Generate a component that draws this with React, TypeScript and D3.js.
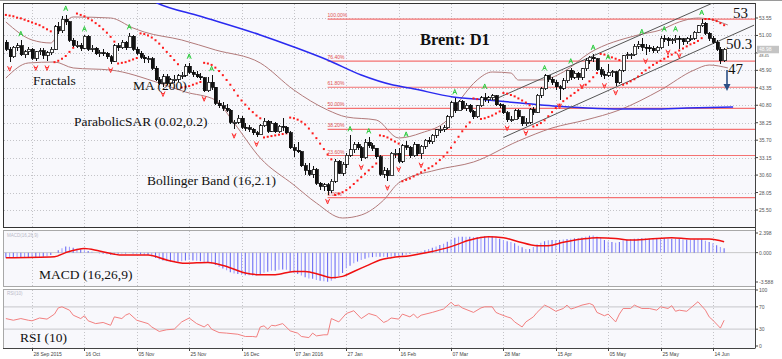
import React, { useEffect, useRef } from 'react';
import * as d3 from 'd3';

const W = 782;
const H = 359;

// trading calendar
const startDate = '2015-09-17';
const holidays = ['2015-11-26', '2015-12-25', '2016-01-01', '2016-03-25'];

// daily bars [open, high, low, close]
const candles: number[][] = [
  [50.0,50.3,48.8,49.0],[49.0,49.3,47.1,47.9],[47.9,49.5,47.7,49.3],[49.3,49.9,48.7,49.5],[49.5,50.3,48.0,48.2],
  [48.2,48.9,47.7,48.6],[48.6,49.3,48.1,49.0],[49.0,49.1,47.4,47.7],[47.7,48.8,47.2,48.6],[48.6,49.2,48.1,48.8],
  [48.8,49.2,47.6,48.1],[48.1,48.7,47.2,48.5],[48.5,49.3,48.2,49.0],[49.0,52.6,48.9,52.3],[52.3,52.9,51.2,51.7],
  [51.7,53.8,51.4,53.4],[53.4,54.0,52.6,53.0],[53.0,53.1,50.1,50.3],[50.3,50.6,49.3,49.6],[49.6,50.2,49.1,49.6],
  [49.6,49.9,48.8,49.1],[49.1,51.0,49.0,50.9],[50.9,51.0,48.8,49.0],[49.0,49.6,48.6,49.1],[49.1,49.3,48.1,48.3],
  [48.3,48.9,47.8,48.5],[48.5,49.0,48.0,48.4],[48.4,48.6,47.6,47.9],[47.9,48.1,46.9,47.2],[47.2,49.7,47.1,49.5],
  [49.5,49.9,48.8,49.2],[49.2,50.3,49.0,50.0],[50.0,50.2,48.9,49.2],[49.2,51.3,49.1,50.9],[50.9,51.0,48.8,49.0],
  [49.0,49.3,48.1,48.4],[48.4,48.7,47.5,47.8],[47.8,48.2,47.0,47.6],[47.6,48.0,47.0,47.6],[47.6,47.8,45.9,46.2],
  [46.2,46.5,44.3,44.5],[44.5,45.0,43.7,44.0],[44.0,45.4,43.4,45.0],[45.0,45.3,43.8,44.0],[44.0,44.8,43.6,44.5],
  [44.5,45.2,44.1,44.6],[44.6,45.4,44.2,45.1],[45.1,45.6,44.6,45.2],[45.2,46.9,45.0,46.5],[46.5,47.0,45.4,45.6],
  [45.6,46.0,45.0,45.3],[45.3,45.8,44.8,45.0],[45.0,45.5,44.5,44.8],[44.8,45.0,42.7,42.9],[42.9,44.9,42.7,44.2],
  [44.2,45.2,43.1,43.4],[43.4,43.5,40.9,41.1],[41.1,41.6,40.4,40.7],[40.7,41.3,40.0,40.4],[40.4,41.0,39.8,40.1],
  [40.1,40.2,38.0,38.3],[38.3,38.7,37.3,38.3],[38.3,39.4,38.0,38.9],[38.9,39.2,37.4,37.6],[37.6,38.2,37.1,37.5],
  [37.5,37.9,36.9,37.3],[37.3,37.5,36.4,36.8],[36.8,37.0,36.1,36.5],[36.5,38.1,36.4,37.8],[37.8,38.9,37.6,38.5],
  [38.5,38.7,36.8,37.0],[37.0,38.5,36.9,38.2],[38.2,38.3,36.7,36.9],[36.9,37.9,36.8,37.7],[37.7,39.0,37.0,37.6],
  [37.6,37.8,36.6,36.8],[36.8,37.0,34.4,34.6],[34.6,35.1,33.2,34.2],[34.2,35.4,33.8,34.0],[34.0,34.1,31.8,32.0],
  [32.0,32.4,30.6,31.3],[31.3,32.3,30.4,30.7],[30.7,31.9,30.2,31.4],[31.4,31.6,29.2,29.4],[29.4,29.6,28.4,29.0],
  [29.0,29.5,28.3,29.2],[29.2,29.4,27.7,28.3],[28.3,30.0,28.0,29.7],[29.7,32.9,29.5,32.6],[32.6,32.8,30.7,30.9],
  [30.9,32.5,30.4,32.2],[32.2,33.8,31.6,33.5],[33.5,36.4,33.3,34.3],[34.3,35.5,33.9,35.1],[35.1,35.4,34.2,34.6],
  [34.6,34.8,32.7,33.1],[33.1,35.8,32.9,35.4],[35.4,36.1,34.5,34.9],[34.9,35.3,34.1,34.5],[34.5,34.6,33.0,33.3],
  [33.3,33.5,30.5,30.7],[30.7,31.8,30.2,31.2],[31.2,31.6,29.7,30.5],[30.5,34.0,30.4,33.8],[33.8,34.4,33.1,33.8],
  [33.8,34.5,32.4,32.6],[32.6,35.2,32.4,34.9],[34.9,35.6,34.2,34.7],[34.7,34.9,33.1,33.4],[33.4,35.4,33.2,35.1],
  [35.1,35.2,33.4,33.7],[33.7,35.0,33.0,34.8],[34.8,35.9,34.4,35.7],[35.7,36.1,35.1,35.5],[35.5,36.6,35.2,36.4],
  [36.4,37.4,36.0,37.2],[37.2,37.7,36.8,37.3],[37.3,37.9,36.9,37.5],[37.5,39.4,37.3,39.1],[39.1,41.4,39.0,41.2],
  [41.2,41.8,39.7,40.0],[40.0,41.6,39.9,41.4],[41.4,41.5,40.1,40.4],[40.4,41.2,40.0,40.8],[40.8,41.0,39.6,39.9],
  [39.9,40.1,38.8,39.1],[39.1,40.9,38.9,40.7],[40.7,42.2,40.5,41.9],[41.9,42.6,41.3,41.6],[41.6,42.2,41.2,41.9],
  [41.9,42.4,41.5,42.2],[42.2,42.3,40.7,40.9],[40.9,41.2,40.4,40.8],[40.8,41.0,39.5,39.7],[39.7,39.9,38.4,38.7],
  [38.7,39.3,38.3,38.7],[38.7,40.3,38.6,40.0],[40.0,40.2,38.8,39.1],[39.1,39.3,37.8,38.1],[38.1,38.9,37.7,38.3],
  [38.3,40.4,38.0,40.2],[40.2,40.6,39.4,39.8],[39.8,42.5,39.6,42.3],[42.3,43.4,41.9,43.2],[43.2,45.3,43.0,45.1],
  [45.1,45.2,44.2,44.6],[44.6,44.9,43.8,44.2],[44.2,44.5,43.1,43.5],[43.5,43.7,41.6,43.3],[43.3,44.8,43.0,44.4],
  [44.4,46.0,44.0,45.9],[45.9,46.3,44.5,44.9],[44.9,45.8,44.6,45.5],[45.5,45.7,44.5,44.9],[44.9,46.3,44.5,46.1],
  [46.1,47.7,45.8,47.4],[47.4,48.0,46.9,47.8],[47.8,48.3,47.1,47.6],[47.6,47.7,45.8,46.0],[46.0,46.4,45.0,45.3],
  [45.3,45.8,44.6,45.2],[45.2,46.9,45.0,45.6],[45.6,46.0,45.0,45.7],[45.7,45.8,43.6,44.1],[44.1,46.1,43.9,45.9],
  [45.9,48.2,45.7,48.0],[48.0,48.6,47.5,48.2],[48.2,48.5,47.5,48.2],[48.2,49.7,48.0,49.4],[49.4,50.2,49.0,49.7],
  [49.7,50.6,48.8,49.3],[49.3,49.8,48.2,49.2],[49.2,49.6,48.6,49.1],[49.1,49.4,48.4,48.8],[48.8,49.4,48.5,49.2],
  [49.2,50.9,49.0,50.6],[50.6,51.0,50.1,50.5],[50.5,50.8,49.5,50.2],[50.2,50.6,49.8,50.4],[50.4,51.0,49.9,50.6],
  [50.6,50.9,49.0,50.5],[50.5,50.7,49.6,50.1],[50.1,50.8,49.8,50.5],[50.5,51.0,50.2,50.6],[50.6,51.7,50.4,51.5],
  [51.5,52.6,51.3,52.4],[52.4,53.4,52.2,52.8],[52.8,52.9,51.0,51.3],[51.3,51.5,50.2,50.6],[50.6,50.9,49.8,50.0],
  [50.0,50.3,48.8,49.0],[49.0,49.3,46.9,47.3],[47.3,49.2,47.1,48.98],
];
const lastPrice = 48.98;

// parabolic SAR (0.02, 0.2), one dot per bar
const sar = [
  54.0,53.9,53.8,53.6,53.5,53.3,53.1,52.9,52.7,52.5,52.2,51.9,51.6,
  47.1,47.3,47.6,48.0,48.6,49.2,
  54.2,54.0,53.8,53.5,53.2,52.8,52.4,51.9,51.4,50.8,50.1,
  46.9,47.0,47.1,47.3,47.5,47.7,
  51.3,51.2,51.0,50.7,50.3,49.8,49.2,48.6,48.0,47.4,46.8,
  43.4,43.5,43.6,43.8,44.0,44.2,
  47.0,46.9,46.7,46.3,45.8,45.2,44.5,43.8,43.0,42.2,41.5,40.9,40.3,39.8,39.3,38.9,
  36.1,36.2,36.3,36.4,36.5,36.6,36.7,
  39.0,38.9,38.7,38.4,38.0,37.4,36.7,36.0,35.2,34.4,33.6,32.9,
  27.7,27.9,28.1,28.4,28.8,29.3,29.8,30.3,30.8,31.3,31.8,32.3,
  36.4,36.3,36.1,35.8,35.5,35.2,
  29.7,29.9,30.1,30.4,30.7,31.0,31.3,31.6,31.9,32.3,32.8,33.3,33.9,34.6,35.4,36.2,37.0,37.7,38.3,
  41.8,41.7,
  38.8,38.9,39.1,39.3,39.6,39.9,
  42.6,42.5,42.3,42.1,41.8,41.5,41.2,40.8,
  37.7,37.9,38.2,38.6,39.2,39.8,40.4,40.9,41.4,41.8,42.2,42.6,43.0,43.4,43.8,44.3,44.9,45.5,
  48.3,48.2,48.0,47.8,47.6,47.4,
  43.8,44.0,44.3,44.6,45.0,45.5,45.9,46.3,46.7,47.0,47.3,47.6,47.9,48.2,48.5,48.8,49.1,49.4,49.7,49.9,50.2,50.6,
  53.4,53.4,53.3,53.1,52.8,52.5,
];

// Moving average 200, Bollinger (16,2.1): [bar, value]
const ma200: number[][] = [
  [38, 56.4], [40.4, 55.74], [52, 53.8], [68, 51.07], [77, 49.31], [86, 47.41], [95, 45.22], [103.5, 43.76],
  [108, 43.32], [119.5, 42.01], [128.6, 41.57], [137.5, 41.13], [146.3, 40.69], [155.4, 40.40], [164.2, 40.26],
  [173, 40.26], [182, 40.40], [194.4, 40.55],
];
const bbUpper: number[][] = [
  [0, 52.97], [7, 50.34], [12, 49.9], [14, 51.36], [16, 52.97], [18, 53.7], [28, 53.55], [34, 52.09], [37, 51.5],
  [47, 50.34], [56, 48.88], [68, 46.98], [77, 43.03], [86, 40.11], [91, 39.09], [99, 38.65], [105, 36.02],
  [111, 36.75], [118, 38.65], [122, 42.0], [126, 44.5], [130, 45.66], [135, 45.51], [137, 44.49], [143, 44.49],
  [149, 45.66], [156, 48.44], [169, 51.07], [175, 51.8], [180, 52.97], [185, 53.55], [189, 53.26], [193, 52.53],
];
const bbLower: number[][] = [
  [0, 44.78], [6, 46.98], [13, 47.12], [18, 46.25], [28, 45.95], [41, 44.05], [48, 42.74], [56, 41.57],
  [61, 38.21], [68, 33.1], [77, 29.15], [83, 26.52], [90, 24.33], [95, 24.77], [101, 26.96], [105, 29.45],
  [115, 31.34], [125, 32.51], [137, 35.58], [146, 37.48], [155, 38.65], [164, 40.11], [175, 43.03], [184, 45.95],
  [188, 46.68], [193, 46.25],
];

const fractalUp = [4, 16, 21, 33, 49, 55, 92, 97, 107, 120, 128, 144, 151, 157, 161, 170, 176, 179, 186];
const fractalDown = [1, 8, 11, 28, 42, 53, 61, 67, 86, 95, 102, 105, 111, 134, 139, 148, 154, 160, 163, 171, 177, 180];

// trend channel [bar, price]
const channelUpper: number[][] = [[130, 41.5], [195, 57.2]];
const channelLower: number[][] = [[133, 36.1], [200, 52.5]];

// fibonacci retracement
const fibLow = 27.3;
const fibHigh = 53.4;
const fibStartBar = 86;
const fibLevels = [0, 23.6, 38.2, 50, 61.8, 76.4, 100];

const priceTicks = [53.55, 51.0, 48.45, 45.9, 43.35, 40.8, 38.25, 35.7, 33.15, 30.6, 28.05, 25.5];

// MACD (16,26,9)
const macdHist = [
  -0.62,-0.62,-0.6,-0.6,-0.58,-0.58,-0.55,-0.55,-0.55,-0.52,-0.5,-0.45,
  -0.3,0.0,0.3,0.55,0.75,0.72,0.6,0.5,0.4,
  0.3,0.2,0.1,0.0,-0.1,-0.15,-0.2,-0.25,-0.2,-0.15,
  -0.1,-0.1,-0.05,-0.1,-0.15,-0.2,-0.25,-0.3,-0.45,-0.65,
  -0.85,-0.95,-1.05,-1.1,-1.15,-1.1,-1.05,-0.95,-0.9,-0.95,
  -1.0,-1.05,-1.2,-1.25,-1.3,-1.5,-1.75,-1.95,-2.15,-2.4,
  -2.55,-2.6,-2.7,-2.75,-2.75,-2.8,-2.8,-2.65,-2.45,-2.35,
  -2.2,-2.2,-2.1,-2.05,-2.1,-2.3,-2.5,-2.6,-2.8,-3.0,
  -3.15,-3.2,-3.35,-3.45,-3.5,-3.55,-3.45,-3.2,-2.9,-2.5,
  -1.9,-1.6,-1.3,-1.1,-0.9,-0.75,-0.6,-0.55,-0.5,-0.5,
  -0.5,-0.55,-0.5,-0.45,-0.45,-0.35,-0.25,-0.15,-0.05,0.05,
  0.15,0.3,0.45,0.6,0.75,0.93,1.1,1.34,1.6,1.83,
  1.95,1.95,1.95,1.95,1.9,1.9,1.95,2.0,2.0,2.0,
  1.9,1.7,1.55,1.4,1.3,1.14,0.85,0.65,0.45,0.45,
  0.7,1.0,1.2,1.4,1.5,1.55,1.55,1.55,1.6,1.65,
  1.7,1.75,1.8,1.85,1.95,2.07,2.1,1.95,1.78,1.55,
  1.35,1.3,1.2,1.3,1.5,1.6,1.65,1.7,1.75,1.75,
  1.75,1.7,1.65,1.65,1.7,1.75,1.72,1.7,1.7,1.65,
  1.6,1.58,1.58,1.6,1.65,1.6,1.45,1.3,1.15,0.9,0.7,0.55,
];
const macdSignal: number[][] = [
  [0, -0.62], [13, -0.5], [16, 0.0], [21, 0.5], [25, 0.2], [31, -0.3], [38, -0.3], [43, -0.9], [48, -1.3],
  [54, -1.2], [59, -1.7], [64, -2.5], [68, -2.7], [72, -2.7], [77, -2.3], [80, -2.3], [84, -2.7], [87, -3.06],
  [90, -2.9], [93, -2.3], [97, -1.5], [100, -0.9], [103, -0.62], [108, -0.37], [113, 0.04], [119, 0.73],
  [124, 1.54], [129, 1.95], [133, 1.83], [137, 1.34], [142, 0.85], [145, 0.85], [149, 1.26], [154, 1.66],
  [158, 1.83], [163, 1.74], [167, 1.54], [172, 1.66], [178, 1.83], [183, 1.66], [188, 1.66], [192, 1.34],
];
const macdTicks = [2.398, 0, -3.588];

// RSI (10): [bar, value]
const rsi: number[][] = [
  [0,49],[2,46],[4,49],[6,46],[7,45],[9,50],[11,48],[13,57],[14,68],[15,70],[17,64],[18,55],[20,49],[21,54],
  [22,45],[24,40],[26,42],[28,37],[29,52],[31,49],[32,55],[33,58],[35,46],[38,40],[39,34],[41,26],[43,29],
  [45,30],[47,43],[49,50],[51,40],[53,34],[54,39],[55,30],[57,24],[59,23],[62,21],[64,17],[66,17],[67,16],
  [68,34],[69,36],[70,30],[71,37],[72,36],[74,40],[76,27],[78,23],[79,17],[81,15],[82,23],[83,18],[85,20],
  [86,20],[87,49],[89,43],[91,58],[93,63],[95,49],[97,58],[99,54],[101,42],[102,45],[103,50],[105,48],
  [106,57],[108,52],[109,57],[110,50],[111,55],[114,60],[116,64],[117,66],[119,78],[120,72],[121,73],
  [122,68],[125,60],[127,68],[128,70],[130,70],[131,60],[132,57],[134,52],[135,50],[136,43],[138,34],
  [139,43],[141,52],[142,60],[144,73],[145,70],[147,62],[149,67],[150,73],[151,66],[152,68],[154,73],
  [156,76],[157,73],[158,60],[160,54],[161,57],[163,43],[164,57],[165,67],[167,67],[168,73],[170,67],
  [172,67],[174,64],[175,70],[177,67],[178,72],[179,62],[180,64],[182,62],[185,79],[187,64],[188,52],
  [189,46],[191,32],[192,46],
];
const rsiTicks = [100, 70, 30, 0];

const tickDates = ['2015-09-28', '2015-10-16', '2015-11-05', '2015-11-25', '2015-12-16', '2016-01-07', '2016-01-27',
  '2016-02-16', '2016-03-07', '2016-03-28', '2016-04-15', '2016-05-05', '2016-05-25', '2016-06-14'];
const tickLabels = ['28 Sep 2015', '16 Oct', '05 Nov', '25 Nov', '16 Dec', '07 Jan 2016', '27 Jan',
  '16 Feb', '07 Mar', '28 Mar', '15 Apr', '05 May', '25 May', '14 Jun'];

const tradingDays = (n: number) => {
  const out: string[] = [];
  const d = new Date(startDate + 'T12:00:00Z');
  while (out.length < n) {
    const s = d.toISOString().slice(0, 10);
    const wd = d.getUTCDay();
    if (wd !== 0 && wd !== 6 && !holidays.includes(s)) out.push(s);
    d.setUTCDate(d.getUTCDate() + 1);
  }
  return out;
};

export default function App() {
  const svgRef = useRef<SVGSVGElement>(null);

  useEffect(() => {
    if (!svgRef.current) return;
    const svg = d3.select(svgRef.current);
    svg.selectAll('*').remove();

    const main = { l: 3, r: 755, t: 3, b: 227 };
    const macdP = { t: 230, b: 286 };
    const rsiP = { t: 289, b: 348 };
    const axisFont = 'Liberation Sans, Arial, sans-serif';
    const serif = 'Liberation Serif, Times New Roman, serif';

    const dates = tradingDays(candles.length);
    const x = d3.scaleBand<string>().domain(dates).range([4, 726]);
    const bw = x.bandwidth();
    const xc = (i: number) => (x(dates[0]) as number) + bw / 2 + i * x.step();
    const y = d3.scaleLinear().domain([25.5, 53.55]).range([210, 18]);
    const ym = d3.scaleLinear().domain([-3.588, 2.398]).range([282, 233]);
    const yr = d3.scaleLinear().domain([0, 100]).range([346, 290]);

    svg.append('rect').attr('width', W).attr('height', H).attr('fill', '#ffffff');
    svg.append('line').attr('x1', 0).attr('x2', W).attr('y1', 0.5).attr('y2', 0.5).attr('stroke', '#9a9a9a');

    const defs = svg.append('defs');
    defs.append('clipPath').attr('id', 'clipMain').append('rect')
      .attr('x', main.l).attr('y', main.t).attr('width', main.r - main.l).attr('height', main.b - main.t);

    // panels
    [[main.t, main.b], [macdP.t, macdP.b], [rsiP.t, rsiP.b]].forEach(([t, b], k) => {
      svg.append('rect')
        .attr('x', main.l + 0.5).attr('y', t + 0.5)
        .attr('width', main.r - main.l).attr('height', b - t)
        .attr('fill', '#f8f8fc')
        .attr('stroke', k === 0 ? '#333' : '#a8a8a8');
    });

    // vertical grid
    tickDates.forEach((d) => {
      const xx = Math.round(xc(dates.indexOf(d))) + 0.5;
      [[main.t, main.b], [macdP.t, macdP.b], [rsiP.t, rsiP.b]].forEach(([t, b]) => {
        svg.append('line').attr('x1', xx).attr('x2', xx).attr('y1', t + 1).attr('y2', b)
          .attr('stroke', '#c4c4c8').attr('stroke-dasharray', '1,2');
      });
    });
    // horizontal grid
    priceTicks.forEach((p) => {
      const yy = Math.round(y(p)) + 0.5;
      svg.append('line').attr('x1', main.l + 1).attr('x2', main.r).attr('y1', yy).attr('y2', yy)
        .attr('stroke', '#c4c4c8').attr('stroke-dasharray', '1,2');
    });

    const g = svg.append('g').attr('clip-path', 'url(#clipMain)');

    // fibonacci
    const fx = xc(fibStartBar);
    fibLevels.forEach((lv) => {
      const yy = y(fibLow + (fibHigh - fibLow) * lv / 100);
      g.append('line').attr('x1', fx).attr('x2', main.r).attr('y1', yy).attr('y2', yy)
        .attr('stroke', '#f47272').attr('stroke-width', 1.2);
      g.append('text').attr('x', fx).attr('y', yy - 2)
        .attr('font-family', axisFont).attr('font-size', 5).attr('fill', '#e05050')
        .text(`${lv.toFixed(2)}%`);
    });

    const ptLine = d3.line<number[]>().x((d) => xc(d[0])).y((d) => y(d[1]));

    // bollinger
    [bbUpper, bbLower].forEach((band) => {
      g.append('path')
        .attr('d', ptLine.curve(d3.curveMonotoneX)(band) as string)
        .attr('fill', 'none').attr('stroke', '#b27a7a').attr('stroke-width', 1);
    });
    // MA 200
    g.append('path')
      .attr('d', ptLine.curve(d3.curveMonotoneX)(ma200) as string)
      .attr('fill', 'none').attr('stroke', '#2a2af0').attr('stroke-width', 1.5);

    // channel
    [channelUpper, channelLower].forEach((ch) => {
      g.append('path').attr('d', ptLine.curve(d3.curveLinear)(ch) as string)
        .attr('fill', 'none').attr('stroke', '#555').attr('stroke-width', 1);
    });

    // SAR
    g.selectAll('.sar').data(sar).enter().append('rect')
      .attr('x', (_d, i) => xc(i) - 1).attr('y', (d) => y(d) - 1)
      .attr('width', 2).attr('height', 2).attr('fill', '#ff1a1a');

    // candles
    const cg = g.append('g').attr('shape-rendering', 'crispEdges');
    candles.forEach((c, i) => {
      const [o, h, l, cl] = c;
      const cx = Math.round(xc(i)) + 0.5;
      cg.append('line').attr('x1', cx).attr('x2', cx).attr('y1', y(h)).attr('y2', y(l))
        .attr('stroke', '#111');
      const top = y(Math.max(o, cl));
      const bh = Math.max(1, Math.abs(y(o) - y(cl)));
      cg.append('rect').attr('x', cx - 1.5).attr('y', top).attr('width', 3).attr('height', bh)
        .attr('fill', cl >= o ? '#ffffff' : '#111').attr('stroke', '#111').attr('stroke-width', 0.8);
    });

    // fractals
    fractalUp.forEach((i) => {
      const cx = xc(i);
      const yy = y(candles[i][1]) - 5;
      g.append('path').attr('d', `M${cx - 2},${yy + 1} L${cx},${yy - 4} L${cx + 2},${yy + 1} M${cx - 1.2},${yy - 1} L${cx + 1.2},${yy - 1}`)
        .attr('fill', 'none').attr('stroke', '#2ecc40').attr('stroke-width', 1);
    });
    fractalDown.forEach((i) => {
      const cx = xc(i);
      const yy = y(candles[i][2]) + 5;
      g.append('path').attr('d', `M${cx - 2},${yy - 1} L${cx},${yy + 4} L${cx + 2},${yy - 1} M${cx - 1.2},${yy + 1} L${cx + 1.2},${yy + 1}`)
        .attr('fill', 'none').attr('stroke', '#ff3030').attr('stroke-width', 1);
    });

    // right axis
    svg.append('line').attr('x1', main.r + 0.5).attr('x2', main.r + 0.5).attr('y1', main.t).attr('y2', rsiP.b)
      .attr('stroke', '#444');
    priceTicks.forEach((p) => {
      svg.append('line').attr('x1', main.r).attr('x2', main.r + 3).attr('y1', y(p)).attr('y2', y(p)).attr('stroke', '#444');
      if (Math.abs(y(p) - y(lastPrice)) > 5) {
        svg.append('text').attr('x', main.r + 4).attr('y', y(p) + 2)
          .attr('font-family', axisFont).attr('font-size', 5).attr('fill', '#555').text(p.toFixed(2));
      }
    });
    svg.append('rect').attr('x', main.r + 2).attr('y', y(lastPrice) - 3.5).attr('width', 22).attr('height', 7.5)
      .attr('fill', '#c4c4c4');
    svg.append('text').attr('x', main.r + 4).attr('y', y(lastPrice) + 2)
      .attr('font-family', axisFont).attr('font-size', 5).attr('fill', '#fff').text(lastPrice.toFixed(2));
    // tick value partly under the current price box
    svg.append('text').attr('x', main.r + 4).attr('y', y(48.45) + 4)
      .attr('font-family', axisFont).attr('font-size', 4).attr('fill', '#555').text('48.45');

    // annotations
    const ann = (t: string, xx: number, yy: number, size: number, weight = 'normal') =>
      svg.append('text').attr('x', xx).attr('y', yy).attr('font-family', serif)
        .attr('font-size', size).attr('font-weight', weight).attr('fill', '#111').text(t);
    ann('Brent: D1', 420, 45, 16.5, 'bold');
    ann('53', 733, 18, 15);
    ann('50.3', 726, 49, 15);
    ann('47', 728, 74, 15);
    ann('Fractals', 33, 85, 13.5);
    ann('MA (200)', 133, 90, 13.5);
    ann('ParabolicSAR (0.02,0.2)', 74, 126, 13.5);
    ann('Bollinger Band (16,2.1)', 147, 185, 13.5);
    ann('MACD (16,26,9)', 39, 279, 13.5);
    ann('RSI (10)', 20, 342, 13.5);

    const ax = 727;
    svg.append('line').attr('x1', ax).attr('x2', ax).attr('y1', 70).attr('y2', 86)
      .attr('stroke', '#2b4f86').attr('stroke-width', 1.6);
    svg.append('path').attr('d', `M${ax - 3.5},${84} L${ax + 3.5},${84} L${ax},${91} Z`).attr('fill', '#2b4f86');

    // MACD panel
    svg.append('line').attr('x1', main.l + 1).attr('x2', main.r).attr('y1', ym(0)).attr('y2', ym(0))
      .attr('stroke', '#c8c8c8');
    svg.selectAll('.mh').data(macdHist).enter().append('line')
      .attr('x1', (_d, i) => xc(i)).attr('x2', (_d, i) => xc(i))
      .attr('y1', ym(0)).attr('y2', (d) => ym(d))
      .attr('stroke', (_d, i) => (i % 2 ? '#a0a0ff' : '#6c6cf2')).attr('stroke-width', 1.1);
    const mLine = d3.line<number[]>().x((d) => xc(d[0])).y((d) => ym(d[1])).curve(d3.curveMonotoneX);
    svg.append('path').attr('d', mLine(macdSignal) as string).attr('fill', 'none')
      .attr('stroke', '#f01010').attr('stroke-width', 1.5);
    macdTicks.forEach((v) => {
      svg.append('line').attr('x1', main.r).attr('x2', main.r + 3).attr('y1', ym(v)).attr('y2', ym(v)).attr('stroke', '#444');
      svg.append('text').attr('x', main.r + 4).attr('y', ym(v) + 2)
        .attr('font-family', axisFont).attr('font-size', 5).attr('fill', '#555').text(v.toFixed(3));
    });
    svg.append('text').attr('x', 7).attr('y', 237).attr('font-family', axisFont).attr('font-size', 4.5)
      .attr('fill', '#b8b8c8').text('MACD(16,26,9)');

    // RSI panel
    [70, 30].forEach((v) => {
      svg.append('line').attr('x1', main.l + 1).attr('x2', main.r).attr('y1', yr(v)).attr('y2', yr(v))
        .attr('stroke', '#d0d0d4').attr('stroke-width', 1.2);
    });
    const rLine = d3.line<number[]>().x((d) => xc(d[0])).y((d) => yr(d[1]));
    svg.append('path').attr('d', rLine(rsi) as string).attr('fill', 'none')
      .attr('stroke', '#f28080').attr('stroke-width', 1);
    rsiTicks.forEach((v) => {
      svg.append('line').attr('x1', main.r).attr('x2', main.r + 3).attr('y1', yr(v)).attr('y2', yr(v)).attr('stroke', '#444');
      svg.append('text').attr('x', main.r + 4).attr('y', yr(v) + 2)
        .attr('font-family', axisFont).attr('font-size', 5).attr('fill', '#555').text(String(v));
    });
    svg.append('text').attr('x', 7).attr('y', 295).attr('font-family', axisFont).attr('font-size', 4.5)
      .attr('fill', '#b8b8c8').text('RSI(10)');

    // date axis
    tickDates.forEach((d, k) => {
      const xx = Math.round(xc(dates.indexOf(d))) + 0.5;
      svg.append('line').attr('x1', xx).attr('x2', xx).attr('y1', rsiP.b).attr('y2', rsiP.b + 3).attr('stroke', '#444');
      svg.append('text').attr('x', xx + 1).attr('y', 356)
        .attr('font-family', axisFont).attr('font-size', 5).attr('fill', '#444').text(tickLabels[k]);
    });
    svg.append('line').attr('x1', main.l).attr('x2', main.r).attr('y1', rsiP.b + 0.5).attr('y2', rsiP.b + 0.5)
      .attr('stroke', '#444');
  }, []);

  return (
    <svg ref={svgRef} width={W} height={H} style={{ position: 'absolute', left: 0, top: 0, display: 'block' }}></svg>
  );
}
